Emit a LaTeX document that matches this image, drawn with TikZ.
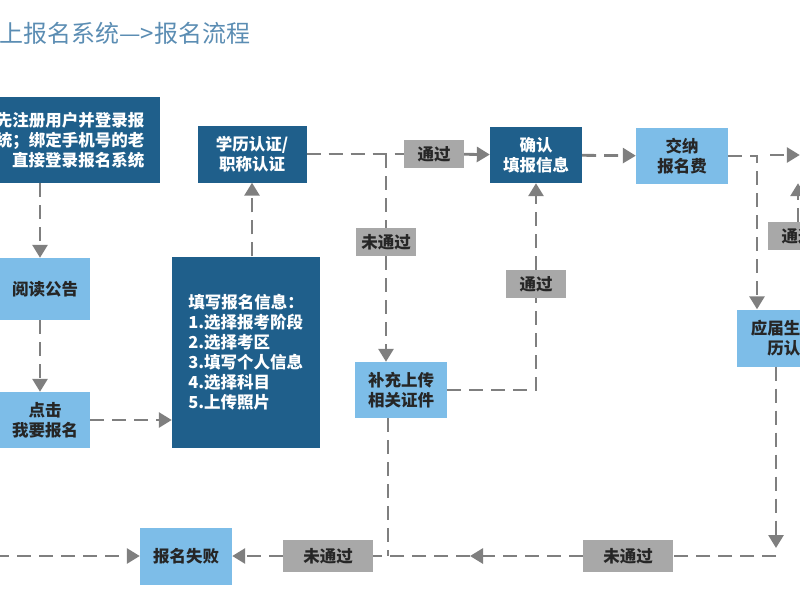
\documentclass[tikz,border=0pt]{standalone}
\usepackage{fontspec}
\setmainfont{Noto Sans CJK SC}
\usetikzlibrary{arrows.meta}
\definecolor{darkbox}{HTML}{1F5F8B}
\definecolor{lightbox}{HTML}{7DBDE8}
\definecolor{tagbox}{HTML}{A8A8A8}
\definecolor{flowline}{HTML}{7F7F7F}
\definecolor{titleblue}{HTML}{5B8DB3}
\tikzstyle{arrow} = [-{Triangle[length=13pt,width=15pt]}]
\tikzstyle{flow} = [flowline, line width=2.8pt, dash pattern=on 14pt off 8pt]
\tikzstyle{dark} = [fill=darkbox, text=white, font=\bfseries\fontsize{16.5}{20}\selectfont, align=center, inner sep=0pt]
\tikzstyle{light} = [fill=lightbox, text=black!85, font=\bfseries\fontsize{16.5}{20}\selectfont, align=center, inner sep=0pt]
\tikzstyle{tag} = [fill=tagbox, text=black!85, font=\bfseries\fontsize{16.5}{20}\selectfont, inner sep=0pt, minimum width=60pt, minimum height=28pt]

\begin{document}
\begin{tikzpicture}[x=1pt, y=-1pt]
        \useasboundingbox (0,0) rectangle (800,600);
        \node[anchor=west, text=titleblue, font=\fontsize{24}{28}\selectfont] (title) at (-4,33) {上报名系统—>报名流程};

        \node[dark, minimum width=180pt, minimum height=86pt, align=right] (login) at (70,140) {先注册用户并登录报\\统；绑定手机号的老\\直接登录报名系统\hspace{8pt}};
        \node[light, minimum width=100pt, minimum height=62pt] (read) at (40,289) {\hspace{10pt}阅读公告};
        \node[light, minimum width=100pt, minimum height=56pt] (click) at (40,420) {\hspace{10pt}点击\\\hspace{10pt}我要报名};
        \node[dark, minimum width=109pt, minimum height=57pt] (cert) at (252,154) {学历认证/\\职称认证};
        \node[dark, minimum width=148pt, minimum height=191pt, align=left] (fill) at (246,352) {填写报名信息：\\1.选择报考阶段\\2.选择考区\\3.填写个人信息\\4.选择科目\\5.上传照片};
        \node[dark, minimum width=92pt, minimum height=56pt] (confirm) at (536,155) {确认\\填报信息};
        \node[light, minimum width=92pt, minimum height=56pt] (pay) at (682,156) {交纳\\报名费};
        \node[light, minimum width=92pt, minimum height=56pt] (upload) at (401,390) {补充上传\\相关证件};
        \node[light, minimum width=110pt, minimum height=57pt] (fresh) at (792,338) {应届生学历\\历认证};
        \node[light, minimum width=60pt, minimum height=56pt] (next) at (830,155) {};
        \node[light, minimum width=92pt, minimum height=57pt] (fail) at (186,556) {报名失败};

        \node[tag] (pass1) at (434,154) {通过};
        \node[tag] (fail1) at (386,242) {未通过};
        \node[tag] (pass2) at (536,284) {通过};
        \node[tag] (pass3) at (798,236) {通过};
        \node[tag, minimum width=90pt, minimum height=32pt] (fail2) at (328,556) {未通过};
        \node[tag, minimum width=90pt, minimum height=32pt] (fail3) at (628,556) {未通过};

        \coordinate (j1) at (386,154);
        \coordinate (j2) at (536,390);
        \coordinate (j3) at (757,156);
        \coordinate (j4) at (776,556);
        \coordinate (j4a) at (776,548);
        \coordinate (j5) at (388,556);
        \coordinate (left) at (-5,556);

        \draw[flow, arrow] (login.south -| read) -- (read);
        \draw[flow, arrow] (read) -- (click);
        \draw[flow, arrow] (click.east |- 0,420) -- (fill.west |- 0,420);
        \draw[flow, arrow] (fill.north -| cert) -- (cert);
        \draw[flow] (cert) -- (pass1);
        \draw[flow, arrow] (pass1) -- (confirm);
        \draw[flow] (j1) -- (fail1);
        \draw[flow, arrow] (fail1) -- (upload.north -| j1);
        \draw[flow] (upload) -- (j2) -- (pass2);
        \draw[flow, arrow] (pass2) -- (confirm);
        \draw[flow, arrow] (confirm) -- (pay);
        \draw[flow, arrow] (pay) -- (j3) -- (fresh.north -| j3);
        \draw[flow, arrow] (pass3) -- (pass3 |- next.south);
        \draw[flow, arrow] (770,155) -- (next);
        \draw[flow, arrow] (fresh.south -| j4) -- (j4a);
        \draw[flow] (j4) -- (fail3);
        \draw[flow, arrow] (fail3) -- (470,556);
        \draw[flow] (470,556) -- (fail2);
        \draw[flow] (upload.south -| j5) -- (j5);
        \draw[flow, arrow] (fail2) -- (fail);
        \draw[flow, arrow] (left) -- (fail);
\end{tikzpicture}
\end{document}
